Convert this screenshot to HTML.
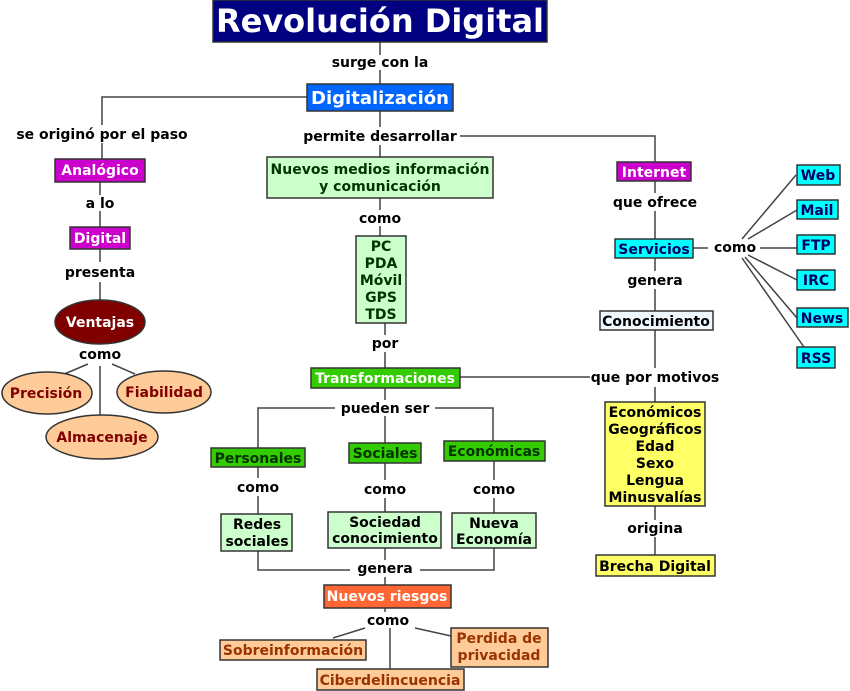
<!DOCTYPE html>
<html><head><meta charset="utf-8"><style>
html,body{margin:0;padding:0;background:#fff;}
svg{display:block;font-family:"DejaVu Sans","Liberation Sans",sans-serif;font-weight:bold;}
</style></head><body>
<svg width="850" height="691" viewBox="0 0 850 691" xmlns="http://www.w3.org/2000/svg">
<g stroke="#444" stroke-width="1.5" fill="none">
<path d="M380 42V55M380 70V84"/>
<path d="M307 97H102V125M102 143V159M100 182V195M100 211V227M100 249V262M100 282V300"/>
<path d="M88 364L62 375M100 366V415M112 364L135 374"/>
<path d="M380 111V127M380 145V157M460 136H655V162M380 198V210M380 226V236"/>
<path d="M385 323V335M385 352V368M385 388V400"/>
<path d="M460 377H590M258 448V408H335M435 408H493V441M385 416V443"/>
<path d="M258 467V478M258 496V514M385 463V480M385 498V512M494 461V480M494 498V513"/>
<path d="M258 551V570H350M420 570H494V548M385 548V560M385 577V585"/>
<path d="M385 608V612M365 628L333 638M390 628V669M415 628L451 636"/>
<path d="M655 181V193M655 211V239M693 248H708M760 248H797M655 258V271M655 289V311M655 330V368M655 387V402"/>
<path d="M742 239L796 175M748 239L797 210M748 255L797 280M745 257L797 318M742 258L806 350"/>
<path d="M655 506V520M655 537V555"/>
</g>
<g stroke="#333" stroke-width="1.5">
<rect x="213" y="0" width="334" height="42" fill="#000080"/>
<rect x="307" y="84" width="146" height="27" fill="#0066ff"/>
<rect x="55" y="159" width="90" height="23" fill="#cc00cc"/>
<rect x="70" y="227" width="60" height="22" fill="#cc00cc"/>
<ellipse cx="100" cy="322" rx="45" ry="22" fill="#800000"/>
<ellipse cx="47" cy="393" rx="45" ry="21" fill="#ffcc99"/>
<ellipse cx="164" cy="392" rx="47" ry="21" fill="#ffcc99"/>
<ellipse cx="102" cy="437" rx="56" ry="22" fill="#ffcc99"/>
<rect x="267" y="157" width="226" height="41" fill="#ccffcc"/>
<rect x="356" y="236" width="50" height="87" fill="#ccffcc"/>
<rect x="311" y="368" width="149" height="20" fill="#33cc00"/>
<rect x="211" y="448" width="94" height="19" fill="#33cc00"/>
<rect x="349" y="443" width="72" height="20" fill="#33cc00"/>
<rect x="444" y="441" width="101" height="20" fill="#33cc00"/>
<rect x="221" y="514" width="71" height="37" fill="#ccffcc"/>
<rect x="328" y="512" width="113" height="36" fill="#ccffcc"/>
<rect x="452" y="513" width="84" height="35" fill="#ccffcc"/>
<rect x="324" y="585" width="127" height="23" fill="#ff6633"/>
<rect x="220" y="640" width="146" height="20" fill="#ffcc99"/>
<rect x="317" y="669" width="147" height="21" fill="#ffcc99"/>
<rect x="451" y="628" width="97" height="39" fill="#ffcc99"/>
<rect x="617" y="162" width="74" height="19" fill="#cc00cc"/>
<rect x="615" y="239" width="78" height="19" fill="#00ffff"/>
<rect x="600" y="311" width="113" height="19" fill="#f0f8ff"/>
<rect x="605" y="402" width="100" height="104" fill="#ffff66"/>
<rect x="596" y="555" width="119" height="21" fill="#ffff66"/>
<rect x="797" y="165" width="43" height="20" fill="#00ffff"/>
<rect x="797" y="200" width="41" height="19" fill="#00ffff"/>
<rect x="797" y="235" width="38" height="19" fill="#00ffff"/>
<rect x="797" y="270" width="38" height="20" fill="#00ffff"/>
<rect x="797" y="308" width="51" height="19" fill="#00ffff"/>
<rect x="797" y="347" width="38" height="21" fill="#00ffff"/>
</g>
<g text-anchor="middle" font-size="14" fill="#000">
<text x="380" y="32" font-size="32" fill="#fff">Revolución Digital</text>
<text x="380" y="67">surge con la</text>
<text x="380" y="104" font-size="18" fill="#fff">Digitalización</text>
<text x="102" y="139">se originó por el paso</text>
<text x="100" y="175" fill="#fff">Analógico</text>
<text x="100" y="208">a lo</text>
<text x="100" y="243" fill="#fff">Digital</text>
<text x="100" y="277">presenta</text>
<text x="100" y="327" fill="#fff">Ventajas</text>
<text x="100" y="359">como</text>
<text x="46" y="398" fill="#800000">Precisión</text>
<text x="164" y="397" fill="#800000">Fiabilidad</text>
<text x="102" y="442" fill="#800000">Almacenaje</text>
<text x="380" y="141">permite desarrollar</text>
<text x="380" y="174" fill="#003300">Nuevos medios información</text>
<text x="380" y="191" fill="#003300">y comunicación</text>
<text x="380" y="223">como</text>
<text x="381" y="251" fill="#003300">PC</text>
<text x="381" y="268" fill="#003300">PDA</text>
<text x="381" y="285" fill="#003300">Móvil</text>
<text x="381" y="302" fill="#003300">GPS</text>
<text x="381" y="319" fill="#003300">TDS</text>
<text x="385" y="348">por</text>
<text x="385" y="383" fill="#fff">Transformaciones</text>
<text x="385" y="413">pueden ser</text>
<text x="258" y="463" fill="#003300">Personales</text>
<text x="385" y="458" fill="#003300">Sociales</text>
<text x="494" y="456" fill="#003300">Económicas</text>
<text x="258" y="492">como</text>
<text x="385" y="494">como</text>
<text x="494" y="494">como</text>
<text x="257" y="529">Redes</text>
<text x="257" y="546">sociales</text>
<text x="385" y="527">Sociedad</text>
<text x="385" y="543">conocimiento</text>
<text x="494" y="528">Nueva</text>
<text x="494" y="544">Economía</text>
<text x="385" y="573">genera</text>
<text x="387" y="601" fill="#fff">Nuevos riesgos</text>
<text x="388" y="625">como</text>
<text x="293" y="655" fill="#993300">Sobreinformación</text>
<text x="390" y="685" fill="#993300">Ciberdelincuencia</text>
<text x="499" y="643" fill="#993300">Perdida de</text>
<text x="499" y="660" fill="#993300">privacidad</text>
<text x="654" y="177" fill="#fff">Internet</text>
<text x="655" y="207">que ofrece</text>
<text x="654" y="254" fill="#000066">Servicios</text>
<text x="735" y="252">como</text>
<text x="655" y="285">genera</text>
<text x="656" y="326">Conocimiento</text>
<text x="655" y="382">que por motivos</text>
<text x="655" y="417">Económicos</text>
<text x="655" y="434">Geográficos</text>
<text x="655" y="451">Edad</text>
<text x="655" y="468">Sexo</text>
<text x="655" y="485">Lengua</text>
<text x="655" y="502">Minusvalías</text>
<text x="655" y="533">origina</text>
<text x="655" y="571">Brecha Digital</text>
<text x="818" y="180" fill="#000066">Web</text>
<text x="817" y="215" fill="#000066">Mail</text>
<text x="816" y="250" fill="#000066">FTP</text>
<text x="816" y="285" fill="#000066">IRC</text>
<text x="822" y="323" fill="#000066">News</text>
<text x="816" y="363" fill="#000066">RSS</text>
</g>
</svg>
</body></html>
